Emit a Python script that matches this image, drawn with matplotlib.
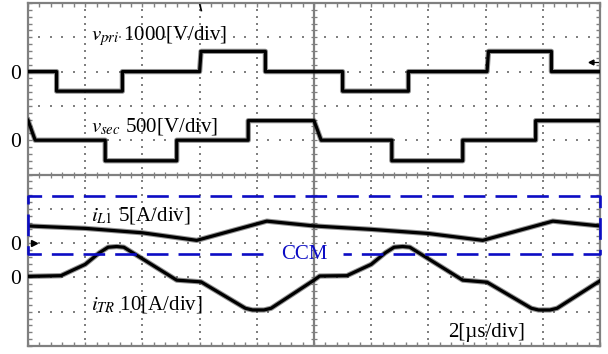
#!/usr/bin/env python3

# scope screenshot: DAB waveforms, vpri / vsec / iL1 / iTR

import matplotlib
matplotlib.use('Agg')
import matplotlib.pyplot as plt
import matplotlib.patheffects as pe
from matplotlib.ticker import MultipleLocator
import numpy as np

plt.rcParams['font.family'] = ['Liberation Serif', 'DejaVu Serif']
plt.rcParams['mathtext.fontset'] = 'stix'

# scope settings (scale per div, zero marker position in div)
t_div = 2.0                      # us/div
vpri_scale, vpri_zero = 1000, 3
vsec_scale, vsec_zero = 500, 1
il1_scale, il1_zero = 5, -2
itr_scale, itr_zero = 10, -3

# traces (t in us)
vpri_t = [0, 1.0, 1.0, 3.3, 3.3, 6.0, 6.05, 8.3, 8.3, 11.0, 11.0, 13.3, 13.3, 16.05, 16.1, 18.3, 18.3, 20]
vpri_v = [0, 0, -570, -570, 0, 0, 590, 590, 0, 0, -570, -570, 0, 0, 590, 590, 0, 0]

vsec_t = [0, 0.25, 2.7, 2.7, 5.2, 5.2, 7.7, 7.7, 10.0, 10.25, 12.72, 12.72, 15.2, 15.2, 17.75, 17.75, 20]
vsec_v = [290, 0, 0, -300, -300, 0, 0, 285, 285, 0, 0, -300, -300, 0, 0, 285, 285]

il1_t = [0, 2, 4, 5.9, 8.35, 10, 12, 14, 15.9, 18.35, 20]
il1_a = [2.5, 2.15, 1.5, 0.4, 3.2, 2.5, 2.0, 1.4, 0.4, 3.2, 2.5]

itr_t = [0, 1.15, 2.0, 2.5, 2.8, 3.1, 3.35, 5.2, 6.05, 7.6, 7.85, 8.25, 8.5, 10.0, 10.2,
         11.15, 12.0, 12.5, 12.8, 13.1, 13.35, 15.2, 16.05, 17.6, 17.85, 18.25, 18.5, 20]
itr_a = [0.3, 0.5, 3.8, 7.2, 8.8, 9.0, 8.8, -0.8, -1.3, -9.0, -9.5, -9.5, -9.0, -0.8, 0.4,
         0.5, 3.8, 7.2, 8.8, 9.0, 8.8, -0.8, -1.4, -9.0, -9.5, -9.5, -9.0, -1.0]

grey = '#808080'
blue = '#0c0cc4'

fig = plt.figure(figsize=(6.08, 3.54), dpi=100)
ax = fig.add_axes([28/608, 8/354, 572/608, 343/354])
ax.set_xlim(0, 10)
ax.set_ylim(-5, 5)

for s in ax.spines.values():
	s.set_color(grey)
	s.set_linewidth(1.6)

ax.set_xticks([])
ax.set_yticks([vpri_zero, vsec_zero, il1_zero, itr_zero], labels=['0']*4)
ax.xaxis.set_minor_locator(MultipleLocator(0.2))
ax.yaxis.set_minor_locator(MultipleLocator(0.2))
ax.yaxis.remove_overlapping_locs = False
ax.tick_params(which='both', direction='in', top=True, right=True, color=grey)
ax.tick_params(which='minor', length=3, width=1)
ax.tick_params(which='major', length=0, pad=5, labelsize=15.5)

# graticule
gx = np.arange(0.2, 10, 0.2)
gy = np.arange(-4.8, 5, 0.2)
for y in [-4, -3, -2, -1, 1, 2, 3, 4]:
	ax.scatter(gx, np.full(gx.size, y), s=2.2, marker='s', color=grey, lw=0, zorder=1)
for x in [1, 2, 3, 4, 6, 7, 8, 9]:
	ax.scatter(np.full(gy.size, x), gy, s=2.2, marker='s', color=grey, lw=0, zorder=1)
ax.axhline(0, color=grey, lw=1.6, zorder=1)
ax.axvline(5, color=grey, lw=1.6, zorder=1)
ax.scatter(gx, np.zeros(gx.size), marker='|', s=18, lw=0.9, color=grey, zorder=1)
ax.scatter(np.full(gy.size, 5), gy, marker='_', s=18, lw=0.9, color=grey, zorder=1)

# traces
fuzz = [pe.Stroke(linewidth=3.8, foreground='#3a3a3a', alpha=0.55), pe.Normal()]
def trace(t, v, scale, zero):
	ax.plot(np.array(t)/t_div, zero + np.array(v)/scale, color='k', lw=2.3,
		path_effects=fuzz, zorder=3)

trace(vpri_t, vpri_v, vpri_scale, vpri_zero)
trace(vsec_t, vsec_v, vsec_scale, vsec_zero)
trace(il1_t, il1_a, il1_scale, il1_zero)
trace(itr_t, itr_a, itr_scale, itr_zero)

# CCM region box
box_x = [4.11, 0, 0, 10, 10, 5.51]
box_y = [-2.33, -2.33, -0.62, -0.62, -2.33, -2.33]
ax.plot(box_x, box_y, color=blue, lw=1.9, dashes=(8.2, 3.8), clip_on=False, zorder=4)
ax.text(4.83, -2.33, 'CCM', color=blue, fontsize=15, ha='center', va='center')

# labels
fs = 15
ax.text(1.11, 3.92, r'$v_{pri}$ 1000[V/div]', fontsize=fs, va='baseline')
ax.text(1.10, 1.25, r'$v_{sec}$ 500[V/div]', fontsize=fs, va='baseline')
ax.text(1.11, -1.33, r'$i_{L1}$ 5[A/div]', fontsize=fs, va='baseline')
ax.text(1.11, -3.95, r'$i_{TR}$ 10[A/div]', fontsize=fs, va='baseline')
ax.text(7.35, -4.73, '2[\u00b5s/div]', fontsize=fs, va='baseline')

# scope markers
ax.plot(0.1, il1_zero, marker='>', color='k', ms=4, zorder=5, clip_on=False)
ax.plot([9.84, 9.97], [3.28, 3.28], color='k', lw=0.9)
ax.plot(9.84, 3.28, marker='<', color='k', ms=3.5)
ax.plot([3.0, 3.03], [4.98, 4.78], color='k', lw=1.2, clip_on=False)

fig.savefig('out.png', dpi=100)
